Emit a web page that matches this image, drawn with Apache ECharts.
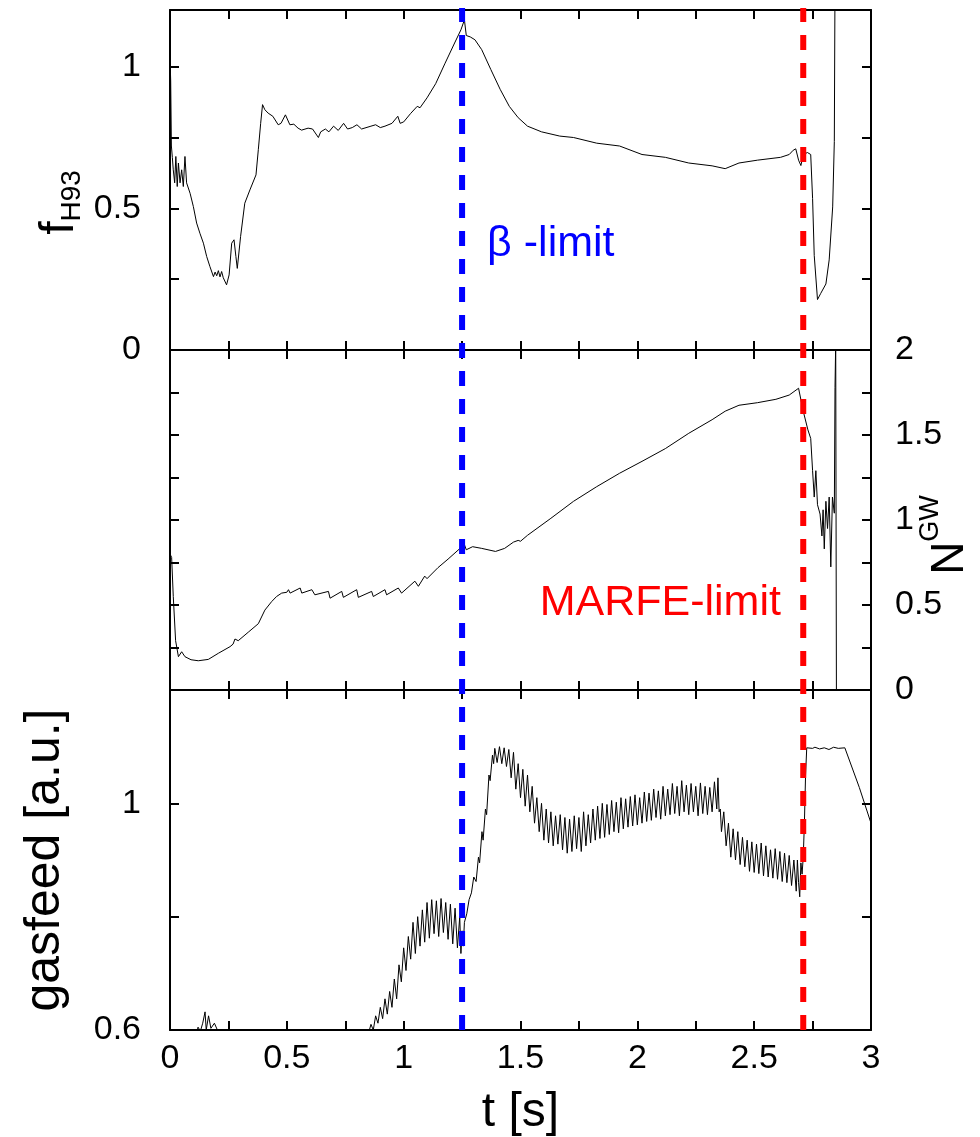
<!DOCTYPE html>
<html><head><meta charset="utf-8">
<script src="https://cdn.jsdelivr.net/npm/echarts@6/dist/echarts.min.js"></script>
<style>html,body{margin:0;padding:0;background:#fff}#c{width:980px;height:1137px}</style>
</head><body><div id="c"></div>
<script>
// ---- data (t [s], value) ----
const fH93 = [[0,1.03],[0.003,0.95],[0.006,0.72],[0.01,0.68],[0.014,0.636],[0.02,0.59],[0.025,0.683],[0.031,0.577],[0.036,0.66],[0.043,0.59],[0.05,0.636],[0.057,0.577],[0.064,0.683],[0.071,0.59],[0.086,0.553],[0.1,0.506],[0.114,0.448],[0.128,0.412],[0.143,0.377],[0.157,0.33],[0.171,0.294],[0.186,0.259],[0.193,0.275],[0.2,0.262],[0.207,0.28],[0.214,0.258],[0.221,0.277],[0.228,0.255],[0.242,0.23],[0.253,0.265],[0.264,0.377],[0.274,0.389],[0.282,0.33],[0.288,0.288],[0.302,0.4],[0.32,0.518],[0.342,0.565],[0.368,0.618],[0.378,0.707],[0.388,0.8],[0.396,0.866],[0.406,0.848],[0.412,0.85],[0.42,0.836],[0.44,0.825],[0.463,0.795],[0.475,0.8],[0.494,0.83],[0.513,0.795],[0.53,0.797],[0.548,0.783],[0.563,0.776],[0.591,0.783],[0.61,0.78],[0.635,0.75],[0.645,0.77],[0.665,0.78],[0.68,0.77],[0.7,0.79],[0.72,0.775],[0.743,0.8],[0.76,0.78],[0.78,0.785],[0.8,0.795],[0.82,0.78],[0.86,0.79],[0.88,0.795],[0.9,0.785],[0.92,0.79],[0.95,0.8],[0.975,0.825],[0.985,0.8],[1.0,0.805],[1.03,0.835],[1.058,0.86],[1.07,0.855],[1.1,0.89],[1.137,0.94],[1.176,1.01],[1.216,1.08],[1.245,1.13],[1.26,1.165],[1.268,1.11],[1.285,1.105],[1.305,1.095],[1.334,1.06],[1.373,0.99],[1.413,0.92],[1.452,0.86],[1.49,0.82],[1.53,0.79],[1.59,0.77],[1.668,0.755],[1.727,0.75],[1.826,0.73],[1.924,0.72],[2.02,0.69],[2.12,0.68],[2.22,0.66],[2.32,0.65],[2.376,0.64],[2.435,0.66],[2.514,0.67],[2.613,0.68],[2.65,0.69],[2.667,0.705],[2.678,0.71],[2.69,0.67],[2.7,0.651],[2.71,0.69],[2.728,0.697],[2.742,0.69],[2.75,0.535],[2.757,0.334],[2.771,0.178],[2.785,0.2],[2.807,0.233],[2.821,0.318],[2.836,0.505],[2.843,0.736],[2.846,1.3]];

const nGW = [[0,0.8],[0.007,0.78],[0.014,0.55],[0.024,0.29],[0.036,0.196],[0.05,0.225],[0.064,0.196],[0.09,0.178],[0.121,0.172],[0.164,0.18],[0.207,0.216],[0.257,0.255],[0.27,0.27],[0.278,0.3],[0.292,0.29],[0.335,0.34],[0.378,0.39],[0.406,0.47],[0.435,0.52],[0.456,0.55],[0.478,0.57],[0.5,0.575],[0.507,0.59],[0.514,0.57],[0.557,0.6],[0.564,0.57],[0.607,0.59],[0.62,0.56],[0.678,0.58],[0.685,0.54],[0.735,0.58],[0.742,0.545],[0.799,0.59],[0.806,0.545],[0.863,0.58],[0.87,0.55],[0.92,0.59],[0.927,0.56],[0.977,0.6],[0.991,0.57],[1.048,0.64],[1.063,0.61],[1.09,0.67],[1.1,0.655],[1.147,0.72],[1.19,0.77],[1.247,0.84],[1.26,0.855],[1.268,0.825],[1.295,0.843],[1.334,0.833],[1.393,0.815],[1.432,0.833],[1.47,0.87],[1.49,0.88],[1.5,0.875],[1.53,0.91],[1.63,1.01],[1.727,1.11],[1.826,1.196],[1.924,1.275],[2.02,1.345],[2.12,1.42],[2.22,1.51],[2.32,1.59],[2.376,1.64],[2.435,1.675],[2.514,1.69],[2.593,1.71],[2.65,1.735],[2.69,1.775],[2.71,1.64],[2.73,1.53],[2.742,1.48],[2.75,1.29],[2.757,1.135],[2.764,1.29],[2.771,1.09],[2.782,1.035],[2.79,0.906],[2.795,1.06],[2.8,0.83],[2.807,1.11],[2.814,0.95],[2.821,1.135],[2.828,0.724],[2.835,1.135],[2.843,1.04],[2.846,1.78],[2.849,2.05],[2.852,0]];

const gasfeed = [[0,0.5],[0.1,0.57],[0.12,0.605],[0.13,0.598],[0.14,0.612],[0.15,0.632],[0.155,0.6],[0.165,0.625],[0.175,0.603],[0.19,0.612],[0.205,0.598],[0.22,0.57],[0.3,0.5],[0.84,0.5],
[0.85,0.595],[0.86,0.61],[0.87,0.6],[0.88,0.625],[0.89,0.612],[0.9,0.64],[0.91,0.62],[0.92,0.655],[0.93,0.628],[0.94,0.668],[0.95,0.64],[0.96,0.69],[0.97,0.655],[0.98,0.715],[0.99,0.685],[1.0,0.745],[1.01,0.705],[1.02,0.765],[1.03,0.725],[1.04,0.79],[1.05,0.735],[1.06,0.8],[1.07,0.748],[1.08,0.812],[1.09,0.755],[1.1,0.825],[1.11,0.762],[1.12,0.83],[1.13,0.77],[1.14,0.828],[1.15,0.765],[1.16,0.832],[1.17,0.772],[1.18,0.825],[1.19,0.76],[1.2,0.822],[1.21,0.752],[1.22,0.815],[1.23,0.745],[1.24,0.8],[1.245,0.735],[1.25,0.775],[1.255,0.748],[1.26,0.79],[1.27,0.805],[1.28,0.83],[1.29,0.842],[1.3,0.87],[1.31,0.862],[1.32,0.905],[1.325,0.895],[1.335,0.95],[1.34,0.935],[1.35,0.99],[1.355,0.98],[1.365,1.05],[1.37,1.04],[1.38,1.085],[1.385,1.07],[1.39,1.097],[1.4,1.072],[1.41,1.1],[1.42,1.07],[1.43,1.098],[1.44,1.065],[1.45,1.095],[1.46,1.045],[1.47,1.09],[1.48,1.025],[1.49,1.07],[1.5,1.01],[1.51,1.06],[1.52,0.995],[1.53,1.05],[1.54,0.985],[1.55,1.03],[1.56,0.965],[1.57,1.01],[1.58,0.95],[1.59,1.0],[1.6,0.935],[1.61,0.99],[1.62,0.93],[1.63,0.985],[1.64,0.925],[1.65,0.978],[1.66,0.928],[1.67,0.98],[1.68,0.918],[1.69,0.975],[1.7,0.912],[1.71,0.972],[1.72,0.915],[1.73,0.978],[1.74,0.92],[1.75,0.975],[1.76,0.915],[1.77,0.985],[1.78,0.925],[1.79,0.98],[1.8,0.93],[1.81,0.99],[1.82,0.935],[1.83,0.995],[1.84,0.938],[1.85,1.0],[1.86,0.94],[1.87,0.998],[1.88,0.945],[1.89,1.005],[1.9,0.95],[1.91,1.002],[1.92,0.948],[1.93,1.01],[1.94,0.955],[1.95,1.008],[1.96,0.958],[1.97,1.012],[1.98,0.96],[1.99,1.015],[2.0,0.962],[2.01,1.01],[2.02,0.965],[2.03,1.02],[2.04,0.968],[2.05,1.018],[2.06,0.97],[2.07,1.025],[2.08,0.975],[2.09,1.022],[2.1,0.972],[2.11,1.03],[2.12,0.978],[2.13,1.025],[2.14,0.98],[2.15,1.035],[2.16,0.982],[2.17,1.03],[2.18,0.978],[2.19,1.04],[2.2,0.985],[2.21,1.032],[2.22,0.98],[2.23,1.035],[2.24,0.985],[2.25,1.03],[2.26,0.978],[2.27,1.036],[2.28,0.982],[2.29,1.03],[2.3,0.98],[2.31,1.028],[2.32,0.985],[2.33,1.038],[2.34,0.99],[2.345,1.045],[2.35,0.985],[2.355,0.99],[2.36,0.95],[2.37,0.985],[2.38,0.925],[2.39,0.965],[2.4,0.905],[2.41,0.955],[2.42,0.9],[2.43,0.95],[2.44,0.892],[2.45,0.94],[2.46,0.888],[2.47,0.935],[2.48,0.88],[2.49,0.932],[2.5,0.878],[2.51,0.928],[2.52,0.876],[2.53,0.93],[2.54,0.872],[2.55,0.925],[2.56,0.87],[2.57,0.918],[2.58,0.868],[2.59,0.92],[2.6,0.866],[2.61,0.915],[2.62,0.862],[2.63,0.912],[2.64,0.86],[2.65,0.908],[2.66,0.855],[2.67,0.9],[2.68,0.845],[2.685,0.9],[2.69,0.86],[2.695,0.835],[2.7,0.895],[2.705,0.875],[2.71,0.905],[2.715,0.965],[2.72,1.05],[2.725,1.098],[2.75,1.097],[2.76,1.099],[2.78,1.096],[2.8,1.098],[2.82,1.095],[2.84,1.099],[2.86,1.097],[2.888,1.098],[2.95,1.028],[3.0,0.965]];

const betaLimitT = 1.25;
const marfeLimitT = 2.71;
const xLabelValues = [0, 0.5, 1, 1.5, 2, 2.5, 3];
const fLabelValues = [0, 0.5, 1];
const nLabelValues = [0, 0.5, 1, 1.5, 2];
const gLabelValues = [0.6, 1];
const betaLabelAt = [1.355, 0.375];
const marfeLabelAt = [1.58, 0.512];

// ---- styling ----
const FONT = "'Liberation Sans', Arial, Helvetica, sans-serif";
const frame = {show: true, onZero: false, lineStyle: {color: '#000', width: 2}};
const tick = {show: true, inside: true, length: 9, lineStyle: {color: '#000', width: 2}};
const fmt = vals => v => (vals.some(x => Math.abs(x - v) < 1e-6) ? String(+v.toFixed(2)) : '');

function xAx(g, pos, labelled) {
  return {type: 'value', gridIndex: g, position: pos, min: 0, max: 3, interval: 0.25,
    axisLine: frame, axisTick: tick, splitLine: {show: false}, nameMoveOverlap: false,
    axisLabel: {show: labelled, margin: 12, fontSize: 34, color: '#000', fontFamily: FONT,
      formatter: fmt(xLabelValues)}};
}
function yAx(g, pos, min, max, interval, labels, margin) {
  return {type: 'value', gridIndex: g, position: pos, min: min, max: max, interval: interval,
    axisLine: frame, axisTick: tick, splitLine: {show: false}, nameMoveOverlap: false,
    axisLabel: {show: !!labels, margin: margin || 29, fontSize: 34, color: '#000', fontFamily: FONT,
      formatter: labels ? fmt(labels) : ''}};
}

const xAxes = [
  xAx(0, 'bottom', false), xAx(0, 'top', false),
  xAx(1, 'bottom', false), xAx(1, 'top', false),
  xAx(2, 'bottom', true), xAx(2, 'top', false),
  {type: 'value', gridIndex: 3, min: 0, max: 3, show: false}
];
Object.assign(xAxes[4], {name: 't [s]', nameLocation: 'middle', nameGap: 59,
  nameTextStyle: {fontSize: 48, lineHeight: 48, color: '#000', fontFamily: FONT}});

const yAxes = [
  yAx(0, 'left', 0, 1.2, 0.25, fLabelValues),
  yAx(0, 'right', 0, 1.2, 0.25, null),
  yAx(1, 'left', 0, 2, 0.25, null),
  yAx(1, 'right', 0, 2, 0.25, nLabelValues, 24),
  yAx(2, 'left', 0.6, 1.2, 0.2, gLabelValues),
  yAx(2, 'right', 0.6, 1.2, 0.2, null),
  {type: 'value', gridIndex: 3, min: 0, max: 1, show: false}
];
Object.assign(yAxes[0], {name: '{f|f}{s|H93}', nameLocation: 'middle', nameRotate: 90, nameGap: 84,
  nameTextStyle: {color: '#000', fontFamily: FONT, rich: {
    f: {fontSize: 48, lineHeight: 50, verticalAlign: 'top', fontFamily: FONT, color: '#000'},
    s: {fontSize: 28, lineHeight: 27, verticalAlign: 'bottom', padding: [31, 45, 0, 0], fontFamily: FONT, color: '#000'}}}});
Object.assign(yAxes[3], {name: '{n|N}{s|GW}', nameLocation: 'middle', nameRotate: 90, nameGap: 46,
  nameTextStyle: {color: '#000', fontFamily: FONT, rich: {
    n: {fontSize: 46, lineHeight: 50, padding: [17, 0, 0, 0], fontFamily: FONT, color: '#000'},
    s: {fontSize: 27, lineHeight: 27, verticalAlign: 'top', padding: [0, 30, 0, 0], fontFamily: FONT, color: '#000'}}}});
Object.assign(yAxes[4], {name: 'gasfeed [a.u.]', nameLocation: 'middle', nameRotate: 90, nameGap: 100,
  nameTextStyle: {fontSize: 50, lineHeight: 50, color: '#000', fontFamily: FONT}});

const lineBase = {type: 'line', symbol: 'none', animation: false, clip: true,
  lineStyle: {color: '#000', width: 1}};
function labelPoint(coord, text, color) {
  return {symbol: 'rect', symbolSize: 1, itemStyle: {color: 'rgba(0,0,0,0)'}, animation: false,
    data: [{coord: coord, label: {show: true, position: 'right', distance: 0, formatter: text,
      fontSize: 43, color: color, fontFamily: FONT}}]};
}

const gridBase = {left: 170, width: 701, containLabel: false, outerBoundsMode: 'none'};
const option = {
  backgroundColor: '#fff',
  animation: false,
  grid: [
    Object.assign({top: 10, height: 340}, gridBase),
    Object.assign({top: 350, height: 340}, gridBase),
    Object.assign({top: 690, height: 340}, gridBase),
    Object.assign({top: 8, height: 1022}, gridBase)
  ],
  xAxis: xAxes,
  yAxis: yAxes,
  series: [
    Object.assign({}, lineBase, {name: 'fH93', xAxisIndex: 0, yAxisIndex: 0, data: fH93,
      markPoint: labelPoint(betaLabelAt, 'β -limit', '#0000ff')}),
    Object.assign({}, lineBase, {name: 'NGW', xAxisIndex: 2, yAxisIndex: 3, data: nGW,
      markPoint: labelPoint(marfeLabelAt, 'MARFE-limit', '#ff0000')}),
    Object.assign({}, lineBase, {name: 'gasfeed', xAxisIndex: 4, yAxisIndex: 4, data: gasfeed}),
    {type: 'line', name: 'beta-limit', xAxisIndex: 6, yAxisIndex: 6, symbol: 'none', z: 10, animation: false,
      data: [[betaLimitT, 0], [betaLimitT, 1]], lineStyle: {color: '#0000ff', width: 6, type: [15, 13]}},
    {type: 'line', name: 'MARFE-limit', xAxisIndex: 6, yAxisIndex: 6, symbol: 'none', z: 10, animation: false,
      data: [[marfeLimitT, 0], [marfeLimitT, 1]], lineStyle: {color: '#ff0000', width: 6, type: [15, 13]}}
  ]
};
const chart = echarts.init(document.getElementById('c'), null, {renderer: 'canvas'});
chart.setOption(option);
</script></body></html>
